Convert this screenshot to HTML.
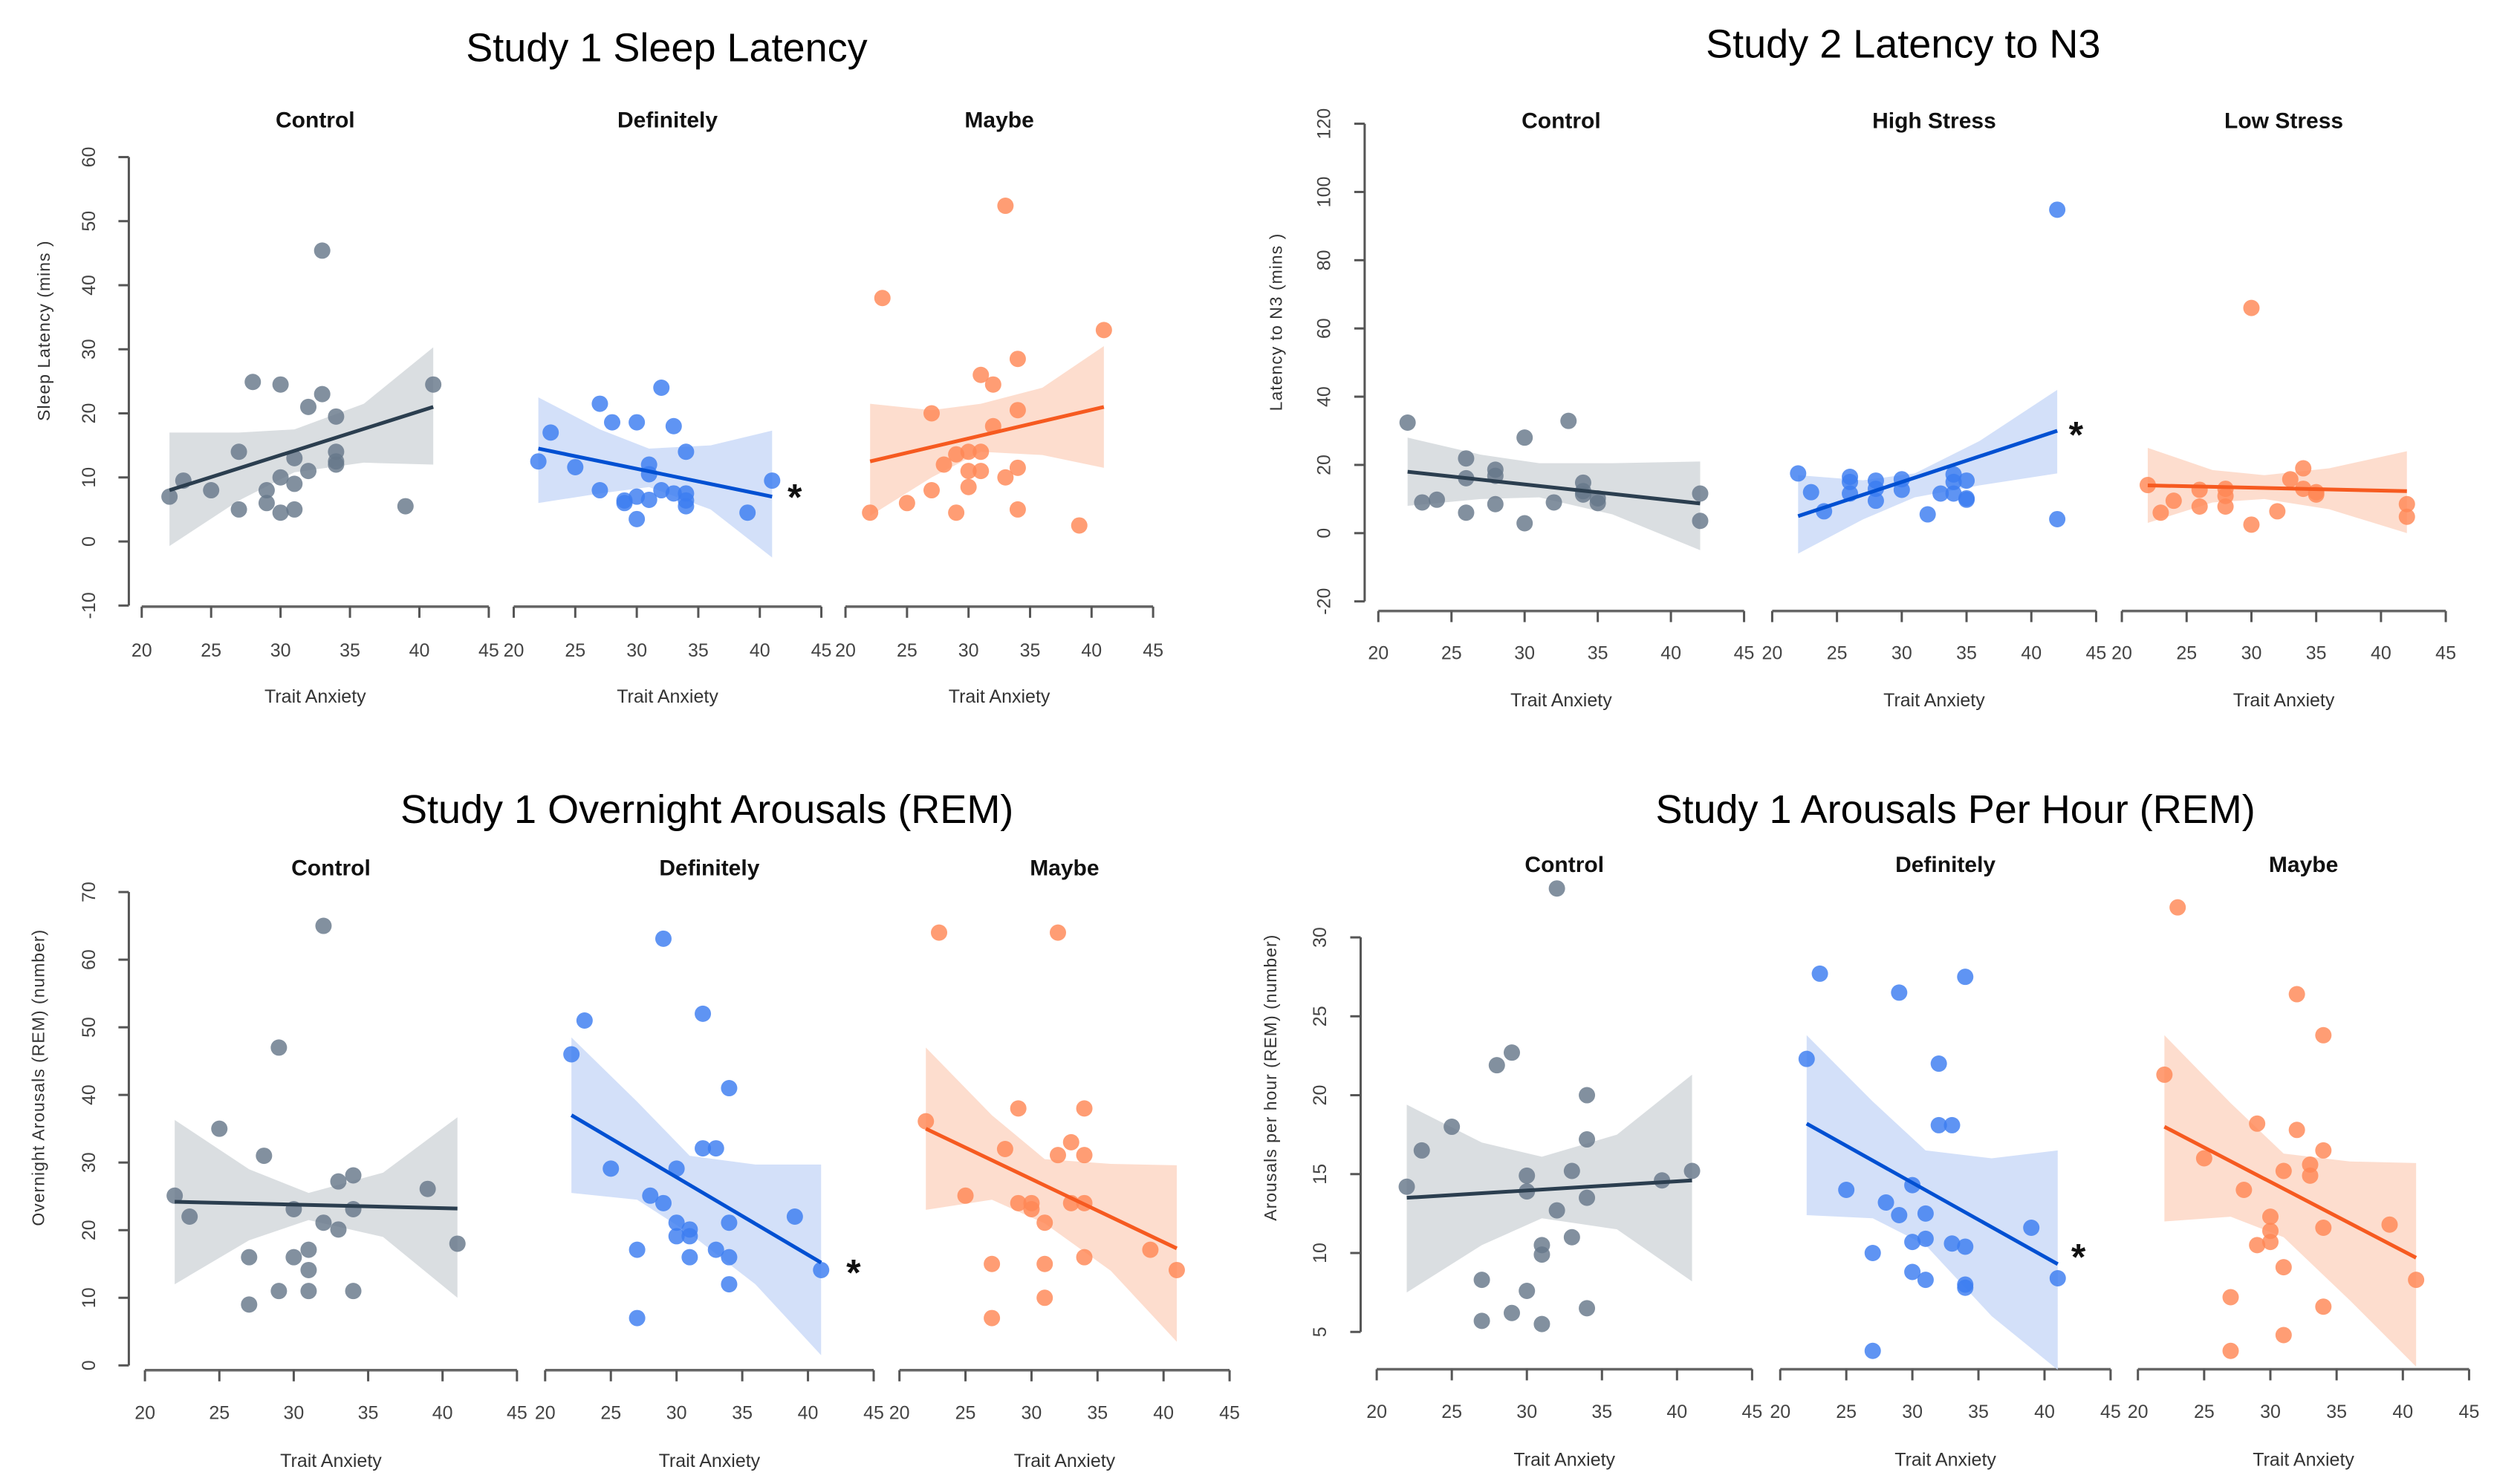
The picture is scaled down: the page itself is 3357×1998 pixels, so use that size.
<!DOCTYPE html>
<html><head><meta charset="utf-8"><style>
html,body{margin:0;padding:0;background:#fff;}
svg{display:block;font-family:"Liberation Sans",sans-serif;}
</style></head><body>
<svg id="chart" width="3357" height="1998" viewBox="0 0 3357 1998" xmlns="http://www.w3.org/2000/svg"></svg>
<script>
// ===== Tick labels =====
const xTicks = [20,25,30,35,40,45];
const yTicksA = [-10,0,10,20,30,40,50,60];
const yTicksB = [-20,0,20,40,60,80,100,120];
const yTicksC = [0,10,20,30,40,50,60,70];
const yTicksD = [5,10,15,20,25,30];
const ciX = [22,27,31,36,41];
const ciXB = [22,27,31,36,42];
const fitXA = [22,41];
const fitXB = [22,42];

// ===== Panel A: Study 1 Sleep Latency =====
const aCtrlX = [22,23,25,27,27,28,29,29,30,30,30,31,31,31,32,32,33,33,34,34,34,34,39,41];
const aCtrlY = [7,9.5,8,5,14,24.9,8,6,24.5,10,4.5,13,9,5,21,11,45.4,23,19.5,14,12.5,12,5.5,24.5];
const aCtrlFit = [8,21];
const aCtrlHi = [17,17,17.5,21.5,30.3];
const aCtrlLo = [-0.7,6.4,10.8,12.3,12];
const aDefX = [22,23,25,27,27,28,29,29,30,30,30,31,31,31,32,32,33,33,34,34,34,34,39,41];
const aDefY = [12.5,17,11.6,21.5,8,18.6,6.4,6,18.6,7,3.5,12,10.5,6.5,24,8,18,7.5,14,7.5,5.5,6.4,4.5,9.5];
const aDefFit = [14.5,7];
const aDefHi = [22.5,17.5,14.5,15,17.3];
const aDefLo = [6,7.5,8.5,5,-2.5];
const aMayX = [22,23,25,27,27,28,29,29,30,30,30,31,31,31,32,32,33,33,34,34,34,34,39,41];
const aMayY = [4.5,38,6,20,8,12,4.5,13.6,14,8.5,11,14,11,26,24.5,18,52.4,10,28.5,20.5,11.5,5,2.5,33];
const aMayFit = [12.5,21];
const aMayHi = [21.5,20.5,21.5,24,30.5];
const aMayLo = [4,10,14,13.5,11.5];

// ===== Panel B: Study 2 Latency to N3 =====
const bCtrlX = [22,23,24,26,26,26,28,28,28,30,30,32,33,34,34,34,35,35,42,42];
const bCtrlY = [32.4,9,9.8,21.9,16.1,6,18.6,16.8,8.5,28,2.9,9,32.9,14.8,12.3,11.3,10.2,8.8,11.6,3.6];
const bCtrlFit = [18,8.7];
const bCtrlHi = [28,23,20.5,20.5,21];
const bCtrlLo = [8,10,10.5,5.5,-5];
const bHighX = [22,23,24,26,26,26,28,28,28,30,30,32,33,34,34,34,35,35,35,42,42];
const bHighY = [17.5,12,6.4,16.5,15,11.6,15.4,13,9.5,15.8,12.7,5.5,11.6,17.2,15,11.6,15.4,10.2,9.8,94.8,4.1];
const bHighFit = [5,30];
const bHighHi = [17,15.5,17.5,27,42];
const bHighLo = [-6,4,10.5,14,17.5];
const bLowX = [22,23,24,26,26,28,28,28,30,30,32,33,34,34,35,35,42,42];
const bLowY = [14.1,6,9.5,12.7,7.8,13,10.9,7.8,66,2.5,6.4,15.8,19,13,12,11.3,8.5,4.8];
const bLowFit = [14,12.3];
const bLowHi = [25,18.5,17,19,24];
const bLowLo = [3,9,10,7,0];

// ===== Panel C: Study 1 Overnight Arousals (REM) =====
const cCtrlX = [22,23,25,27,27,28,29,29,30,30,31,31,31,32,32,33,33,34,34,34,39,41];
const cCtrlY = [25.1,22,35,16,9,31,47,11,23.1,16,17.1,14.1,11,65,21.1,27.2,20.1,28.1,23.1,11,26.1,18];
const cCtrlFit = [24.2,23.2];
const cCtrlHi = [36.3,29,25.5,28.5,36.7];
const cCtrlLo = [12,18.5,21.5,19,10];
const cDefX = [22,23,25,27,27,28,29,29,30,30,30,31,31,31,32,32,33,33,34,34,34,34,39,41];
const cDefY = [46,51,29.1,17.1,7,25.1,24,63.1,29.1,21.1,19.1,20.1,19.1,16,52,32.1,32.1,17.1,41,21.1,16,12,22,14.1];
const cDefFit = [37,15.2];
const cDefHi = [48.5,39,31,29.7,29.7];
const cDefLo = [25.5,24.5,19.5,12,1.5];
const cMayX = [22,23,25,27,27,28,29,29,30,30,31,31,31,32,32,33,33,34,34,34,34,39,41];
const cMayY = [36.1,64,25.1,15,7,32,38,24,24,23.1,21.1,15,10,64,31.1,33,24,38,31.1,24,16,17.1,14.1];
const cMayFit = [35,17.3];
const cMayHi = [47,37,30.5,29.8,29.6];
const cMayLo = [23,24.5,21,14,3.5];

// ===== Panel D: Study 1 Arousals Per Hour (REM) =====
const dCtrlX = [22,23,25,27,27,28,29,29,30,30,30,31,31,31,32,32,33,33,34,34,34,34,39,41];
const dCtrlY = [14.2,16.5,18,8.3,5.7,21.9,22.7,6.2,14.9,13.9,7.6,10.5,9.9,5.5,12.7,33.1,15.2,11,20,17.2,13.5,6.5,14.6,15.2];
const dCtrlFit = [13.5,14.6];
const dCtrlHi = [19.4,17,16.1,17.5,21.3];
const dCtrlLo = [7.5,10.5,12.2,11.5,8.2];
const dDefX = [22,23,25,27,27,28,29,29,30,30,30,31,31,31,32,32,33,33,34,34,34,34,39,41];
const dDefY = [22.3,27.7,14,10,3.8,13.2,26.5,12.4,14.3,10.7,8.8,12.5,10.9,8.3,22,18.1,18.1,10.6,27.5,10.4,8,7.8,11.6,8.4];
const dDefFit = [18.2,9.3];
const dDefHi = [23.8,19.6,16.5,16,16.5];
const dDefLo = [12.4,12.2,10.5,6,2.6];
const dMayX = [22,23,25,27,27,28,29,29,30,30,30,31,31,31,32,32,33,33,34,34,34,34,39,41];
const dMayY = [21.3,31.9,16,7.2,3.8,14,18.2,10.5,12.3,11.4,10.7,15.2,9.1,4.8,26.4,17.8,15.6,14.9,23.8,16.5,11.6,6.6,11.8,8.3];
const dMayFit = [18,9.7];
const dMayHi = [23.8,19.5,16.3,15.8,15.7];
const dMayLo = [12,12.3,11,7,2.8];

// ===== styles =====
const COL = {
  gray:{pt:'#66778a',line:'#2b3e4f',band:'#d3d8dc'},
  blue:{pt:'#3c7cf0',line:'#0050d2',band:'#cbdaf8'},
  orange:{pt:'#ff8755',line:'#f65a20',band:'#fdd7c6'}
};
const NS='http://www.w3.org/2000/svg';
const svg=document.getElementById('chart');
function mk(tag,attrs,parent){const e=document.createElementNS(NS,tag);for(const k in attrs)e.setAttribute(k,attrs[k]);(parent||svg).appendChild(e);return e;}

const panels=[
 {key:'a',ox:0,oy:0,sx:1680/1550,sy:1000/1550,title:'Study 1 Sleep Latency',titleX:828,titleY:128,
  yLabel:'Sleep Latency  (mins )',yTitleX:62,yTitleY:690,yAxisX:160,yLabX:118,y0:1130,yPer:13.37,yTicks:yTicksA,
  xAxisY:1266,xLabY:1356,xTitleY:1452,facetY:250,
  facets:[
   {name:'Control',x20:176,x45:607,col:'gray',X:aCtrlX,Y:aCtrlY,fit:aCtrlFit,hi:aCtrlHi,lo:aCtrlLo,fx:fitXA,cx:ciX},
   {name:'Definitely',x20:638,x45:1020,col:'blue',X:aDefX,Y:aDefY,fit:aDefFit,hi:aDefHi,lo:aDefLo,fx:fitXA,cx:ciX,star:[987,1030]},
   {name:'Maybe',x20:1050,x45:1432,col:'orange',X:aMayX,Y:aMayY,fit:aMayFit,hi:aMayHi,lo:aMayLo,fx:fitXA,cx:ciX}]},
 {key:'b',ox:1680,oy:0,sx:1677/1550,sy:1000/1550,title:'Study 2 Latency to N3',titleX:815,titleY:120,
  yLabel:'Latency to N3 (mins )',yTitleX:42,yTitleY:672,yAxisX:145,yLabX:102,y0:1112.6,yPer:7.12,yTicks:yTicksB,
  xAxisY:1275,xLabY:1362,xTitleY:1460,facetY:252,
  facets:[
   {name:'Control',x20:162,x45:617,col:'gray',X:bCtrlX,Y:bCtrlY,fit:bCtrlFit,hi:bCtrlHi,lo:bCtrlLo,fx:fitXB,cx:ciXB},
   {name:'High Stress',x20:652,x45:1055,col:'blue',X:bHighX,Y:bHighY,fit:bHighFit,hi:bHighHi,lo:bHighLo,fx:fitXB,cx:ciXB,star:[1030,900]},
   {name:'Low Stress',x20:1087,x45:1490,col:'orange',X:bLowX,Y:bLowY,fit:bLowFit,hi:bLowHi,lo:bLowLo,fx:fitXB,cx:ciXB}]},
 {key:'c',ox:0,oy:1000,sx:1680/1550,sy:998/1550,title:'Study 1 Overnight Arousals (REM)',titleX:878,titleY:168,
  yLabel:'Overnight Arousals (REM) (number)',yTitleX:55,yTitleY:700,yAxisX:160,yLabX:118,y0:1302,yPer:14.14,yTicks:yTicksC,
  xAxisY:1312,xLabY:1400,xTitleY:1500,facetY:262,
  facets:[
   {name:'Control',x20:180,x45:642,col:'gray',X:cCtrlX,Y:cCtrlY,fit:cCtrlFit,hi:cCtrlHi,lo:cCtrlLo,fx:fitXA,cx:ciX},
   {name:'Definitely',x20:677,x45:1085,col:'blue',X:cDefX,Y:cDefY,fit:cDefFit,hi:cDefHi,lo:cDefLo,fx:fitXA,cx:ciX,star:[1060,1100]},
   {name:'Maybe',x20:1117,x45:1527,col:'orange',X:cMayX,Y:cMayY,fit:cMayFit,hi:cMayHi,lo:cMayLo,fx:fitXA,cx:ciX}]},
 {key:'d',ox:1680,oy:1000,sx:1677/1550,sy:998/1550,title:'Study 1 Arousals Per Hour (REM)',titleX:880,titleY:168,
  yLabel:'Arousals per hour (REM) (number)',yTitleX:35,yTitleY:700,yAxisX:140,yLabX:97,y0:1397,yPer:33,yTicks:yTicksD,
  xAxisY:1310,xLabY:1398,xTitleY:1498,facetY:255,
  facets:[
   {name:'Control',x20:160,x45:627,col:'gray',X:dCtrlX,Y:dCtrlY,fit:dCtrlFit,hi:dCtrlHi,lo:dCtrlLo,fx:fitXA,cx:ciX},
   {name:'Definitely',x20:662,x45:1073,col:'blue',X:dDefX,Y:dDefY,fit:dDefFit,hi:dDefHi,lo:dDefLo,fx:fitXA,cx:ciX,star:[1033,1068]},
   {name:'Maybe',x20:1107,x45:1519,col:'orange',X:dMayX,Y:dMayY,fit:dMayFit,hi:dMayHi,lo:dMayLo,fx:fitXA,cx:ciX}]}
];

panels.forEach(p=>{
  const g=mk('g',{});
  
  
  const PX=zx=>p.ox+zx*p.sx, PY=zy=>p.oy+zy*p.sy;
  const yS=v=>PY(p.y0-v*p.yPer);
  const t=mk('text',{x:PX(p.titleX),y:PY(p.titleY),'text-anchor':'middle','font-size':54,fill:'#000'},g);
  t.textContent=p.title;
  
  
  const ya=mk('g',{},g);
  
  
  const yMin=p.yTicks[0], yMax=p.yTicks[p.yTicks.length-1];
  mk('line',{x1:PX(p.yAxisX),x2:PX(p.yAxisX),y1:yS(yMin),y2:yS(yMax),stroke:'#555','stroke-width':3},ya);
  p.yTicks.forEach(v=>{
    mk('line',{x1:PX(p.yAxisX)-14,x2:PX(p.yAxisX),y1:yS(v),y2:yS(v),stroke:'#555','stroke-width':3},ya);
    const lx=PX(p.yLabX), ly=yS(v);
    const tt=mk('text',{x:lx,y:ly,'text-anchor':'middle','font-size':25,fill:'#444',transform:`rotate(-90 ${lx} ${ly})`},ya);
    tt.textContent=v;
    
    
  });
  const ytx=PX(p.yTitleX), yty=PY(p.yTitleY);
  const yt=mk('text',{x:ytx,y:yty,'text-anchor':'middle','font-size':23,fill:'#333','letter-spacing':1,transform:`rotate(-90 ${ytx} ${yty})`},g);
  yt.textContent=p.yLabel;
  
  
  p.facets.forEach(f=>{
    const fg=mk('g',{},g);
    
    
    const xS=v=>PX(f.x20+(v-20)*(f.x45-f.x20)/25);
    const c=COL[f.col];
    const mid=(xS(20)+xS(45))/2;
    const fl=mk('text',{x:mid,y:PY(p.facetY)+10,'text-anchor':'middle','font-size':30,'font-weight':'600',fill:'#111'},fg);
    fl.textContent=f.name;
    
    
    const xa=mk('g',{},fg);
    
    
    const ay=PY(p.xAxisY);
    mk('line',{x1:xS(20),x2:xS(45),y1:ay,y2:ay,stroke:'#666','stroke-width':3.5},xa);
    xTicks.forEach(v=>{
      mk('line',{x1:xS(v),x2:xS(v),y1:ay,y2:ay+15,stroke:'#555','stroke-width':3},xa);
      const tl=mk('text',{x:xS(v),y:PY(p.xLabY)+9,'text-anchor':'middle','font-size':25,fill:'#444'},xa);
      tl.textContent=v;
      
      
    });
    const xt=mk('text',{x:mid,y:PY(p.xTitleY)+9,'text-anchor':'middle','font-size':25,fill:'#333'},fg);
    xt.textContent='Trait Anxiety';
    
    
    let d='M'+f.cx.map((v,i)=>xS(v)+','+yS(f.hi[i])).join(' L');
    for(let i=f.cx.length-1;i>=0;i--) d+=' L'+xS(f.cx[i])+','+yS(f.lo[i]);
    const band=mk('path',{d:d+'Z',fill:c.band,'fill-opacity':0.85,'stroke-linejoin':'round'},fg);
    
    
    f.X.forEach((xv,i)=>{
      const pt=mk('circle',{cx:xS(xv),cy:yS(f.Y[i]),r:11,fill:c.pt,'fill-opacity':0.82},fg);
      
      
    });
    const ln=mk('line',{x1:xS(f.fx[0]),y1:yS(f.fit[0]),x2:xS(f.fx[1]),y2:yS(f.fit[1]),stroke:c.line,'stroke-width':5},fg);
    
    
    if(f.star){
      const st=mk('text',{x:PX(f.star[0]),y:PY(f.star[1])+22,'text-anchor':'middle','font-size':50,'font-weight':'bold',fill:'#111'},fg);
      st.textContent='*';
      
      
    }
  });
});
</script>
</body></html>
